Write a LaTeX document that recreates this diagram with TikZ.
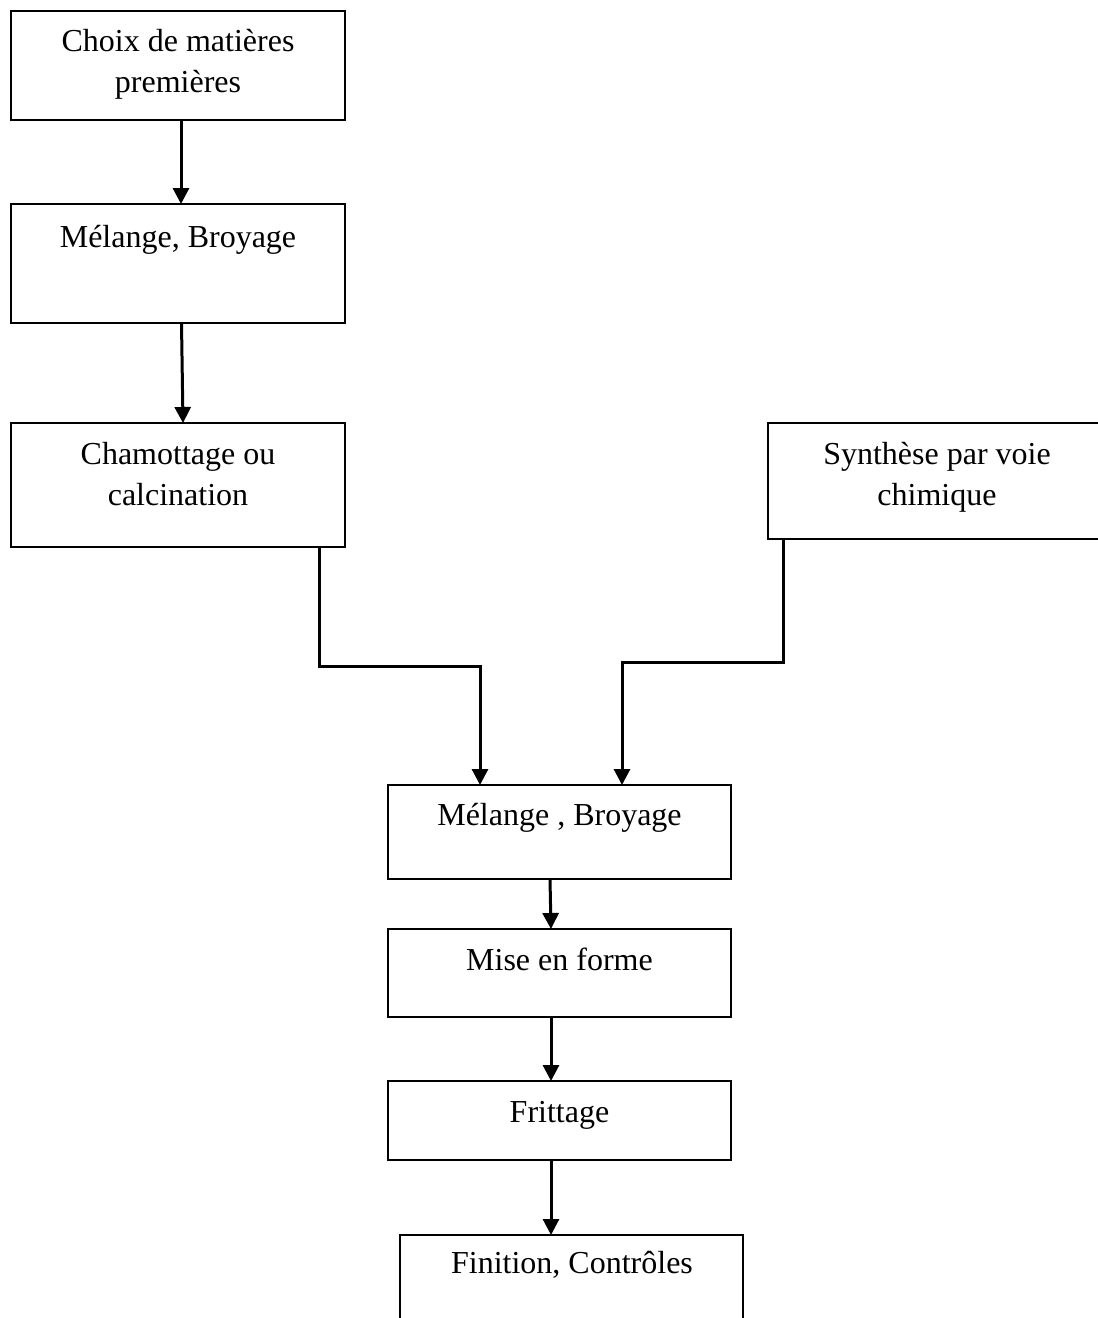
\documentclass[tikz,border=0pt]{standalone}
\usepackage{fontspec}
\setmainfont{Liberation Serif}
\usetikzlibrary{arrows.meta}
\tikzset{
  box/.style={draw=black, line width=1pt, rectangle, inner sep=0pt, outer sep=0pt, fill=white},
  txt/.style={anchor=base, align=center, inner sep=0pt, font=\fontsize{16}{20.5}\selectfont},
  arr/.style={draw=black, line width=1.5pt, -{Triangle[width=8pt,length=8pt]}}
}
\begin{document}
\begin{tikzpicture}[x=0.5pt,y=-0.5pt]
\useasboundingbox (0,0) rectangle (1098,1318);
\fill[white] (0,0) rectangle (1098,1318);
\begin{scope}
\clip (0,0) rectangle (1098,1318);
% boxes
\node[box, minimum width=167pt, minimum height=54.5pt] (b1) at (178,65.5) {};
\node[box, minimum width=167pt, minimum height=59.5pt] (b2) at (178,263.5) {};
\node[box, minimum width=167pt, minimum height=62pt] (b3) at (178,485) {};
\node[box, minimum width=169pt, minimum height=58pt] (b4) at (937,481) {};
\node[box, minimum width=171.5pt, minimum height=47pt] (b5) at (559.5,832) {};
\node[box, minimum width=171.5pt, minimum height=44pt] (b6) at (559.5,973) {};
\node[box, minimum width=171.5pt, minimum height=39.5pt] (b7) at (559.5,1120.5) {};
\node[box, minimum width=171.5pt, minimum height=50pt] (b8) at (571.5,1285) {};
% texts (base = baseline of last line)
\node[txt] (t1) at (178,92) {Choix de matières\\premières};
\node[txt] (t2) at (178,247) {Mélange, Broyage};
\node[txt] (t3) at (178,505) {Chamottage ou\\calcination};
\node[txt] (t4) at (937,505) {Synthèse par voie\\chimique};
\node[txt] (t5) at (559.5,825) {Mélange , Broyage};
\node[txt] (t6) at (559.5,970) {Mise en forme};
\node[txt] (t7) at (559.5,1122) {Frittage};
\node[txt] (t8) at (572,1273) {Finition, Contrôles};
% connectors
\draw[arr] (181,0 |- b1.south) -- (181,0 |- b2.north);
\draw[arr] (181.5,0 |- b2.south) -- (183,0 |- b3.north);
\coordinate (c1) at (480,666);
\coordinate (c2) at (622,662);
\draw[arr] (319,0 |- b3.south) |- (c1) -- (480,0 |- b5.north);
\draw[arr] (783,0 |- b4.south) |- (c2) -- (622,0 |- b5.north);
\draw[arr] (550,0 |- b5.south) -- (551,0 |- b6.north);
\draw[arr] (551,0 |- b6.south) -- (551,0 |- b7.north);
\draw[arr] (551,0 |- b7.south) -- (551,0 |- b8.north);
\end{scope}
\end{tikzpicture}
\end{document}
